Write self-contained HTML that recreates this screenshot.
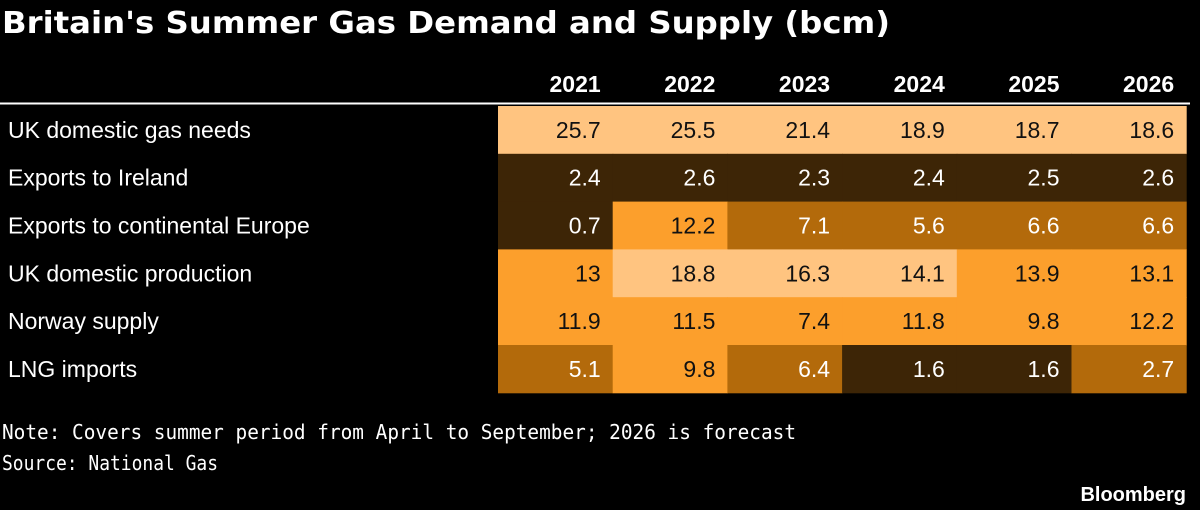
<!DOCTYPE html>
<html><head><meta charset="utf-8">
<style>
html,body{margin:0;padding:0;background:#000;}
svg{display:block;}
</style></head>
<body>
<svg id="chart" width="1200" height="510" viewBox="0 0 1200 510">
<rect x="0" y="0" width="1200" height="510" fill="#000"/>
<text x="2" y="33" font-family="'DejaVu Sans', sans-serif" font-weight="bold" font-size="30" fill="#fff" textLength="888" lengthAdjust="spacingAndGlyphs">Britain's Summer Gas Demand and Supply (bcm)</text>
<rect x="0" y="102.5" width="1190" height="2" fill="#fff"/>
<g id="cells"></g>
<text x="2" y="439" font-family="'DejaVu Sans Mono', monospace" font-size="20" fill="#fff" textLength="794" lengthAdjust="spacingAndGlyphs">Note: Covers summer period from April to September; 2026 is forecast</text>
<text x="2" y="470" font-family="'DejaVu Sans Mono', monospace" font-size="20" fill="#fff" textLength="216" lengthAdjust="spacingAndGlyphs">Source: National Gas</text>
<text x="1186" y="501" text-anchor="end" font-family="'Liberation Sans', sans-serif" font-weight="bold" font-size="20" fill="#fff">Bloomberg</text>
</svg>
<script>
const years = ['2021','2022','2023','2024','2025','2026'];
const rowLabels = ['UK domestic gas needs','Exports to Ireland','Exports to continental Europe','UK domestic production','Norway supply','LNG imports'];
const domesticNeeds = [25.7,25.5,21.4,18.9,18.7,18.6];
const exportsIreland = [2.4,2.6,2.3,2.4,2.5,2.6];
const exportsEurope = [0.7,12.2,7.1,5.6,6.6,6.6];
const domesticProduction = [13,18.8,16.3,14.1,13.9,13.1];
const norwaySupply = [11.9,11.5,7.4,11.8,9.8,12.2];
const lngImports = [5.1,9.8,6.4,1.6,1.6,2.7];
const binThresholds = [2.65,7.3,14];

const series = [domesticNeeds,exportsIreland,exportsEurope,domesticProduction,norwaySupply,lngImports];
const svg = document.getElementById('cells');
const NS = 'http://www.w3.org/2000/svg';
const x0 = 498, colW = 114.7, y0 = 106, rowH = 47.8;
const fills = ['#3d2506','#b36a0b','#fc9f2c','#ffc480'];
const textCols = ['#fff','#fff','#111','#111'];
function colX(i){ return x0 + i*colW; }
function rowY(j){ return y0 + j*rowH; }
function bin(v){ let b=0; while(b<binThresholds.length && v>=binThresholds[b]) b++; return b; }

years.forEach((yr,i)=>{
  const t = document.createElementNS(NS,'text');
  t.setAttribute('x', colX(i)+colW-12);
  t.setAttribute('y', 92);
  t.setAttribute('text-anchor','end');
  t.setAttribute('font-family',"'Liberation Sans', sans-serif");
  t.setAttribute('font-weight','bold');
  t.setAttribute('font-size','23');
  t.setAttribute('fill','#fff');
  t.textContent = yr;
  
  
  svg.appendChild(t);
});

series.forEach((vals,j)=>{
  const lab = document.createElementNS(NS,'text');
  lab.setAttribute('x', 8);
  lab.setAttribute('y', rowY(j)+rowH/2+8);
  lab.setAttribute('font-family',"'Liberation Sans', sans-serif");
  lab.setAttribute('font-size','23');
  lab.setAttribute('fill','#fff');
  lab.textContent = rowLabels[j];
  
  
  svg.appendChild(lab);
  vals.forEach((v,i)=>{
    const b = bin(v);
    const r = document.createElementNS(NS,'rect');
    r.setAttribute('x', colX(i));
    r.setAttribute('y', rowY(j));
    r.setAttribute('width', colW+0.5);
    r.setAttribute('height', rowH+0.5);
    r.setAttribute('fill', fills[b]);
    
    
    svg.appendChild(r);
    const t = document.createElementNS(NS,'text');
    t.setAttribute('x', colX(i)+colW-12);
    t.setAttribute('y', rowY(j)+rowH/2+8);
    t.setAttribute('text-anchor','end');
    t.setAttribute('font-family',"'Liberation Sans', sans-serif");
    t.setAttribute('font-size','23');
    t.setAttribute('fill', textCols[b]);
    t.textContent = String(v);
    
    
    svg.appendChild(t);
  });
});
</script>
</body></html>
